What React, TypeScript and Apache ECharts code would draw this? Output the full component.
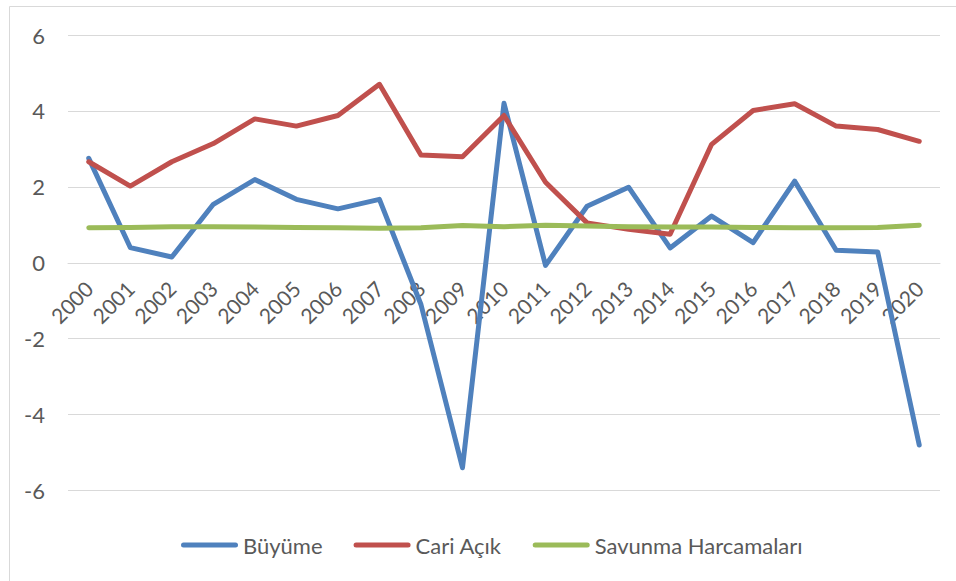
import React, { useEffect, useRef } from "react";
import * as echarts from "echarts";

const years = ["2000","2001","2002","2003","2004","2005","2006","2007","2008","2009","2010","2011","2012","2013","2014","2015","2016","2017","2018","2019","2020"];
const buyume = [2.75, 0.40, 0.15, 1.54, 2.19, 1.67, 1.42, 1.67, -1.1, -5.4, 4.2, -0.07, 1.49, 1.99, 0.39, 1.23, 0.53, 2.15, 0.33, 0.28, -4.8];
const cariAcik = [2.66, 2.02, 2.66, 3.14, 3.79, 3.6, 3.88, 4.7, 2.84, 2.79, 3.88, 2.12, 1.05, 0.88, 0.75, 3.12, 4.01, 4.19, 3.6, 3.51, 3.2];
const savunma = [0.92, 0.93, 0.95, 0.95, 0.94, 0.93, 0.92, 0.91, 0.92, 0.98, 0.95, 0.99, 0.97, 0.95, 0.94, 0.94, 0.93, 0.92, 0.92, 0.93, 0.99];
const seriesNames = ["Büyüme", "Cari Açık", "Savunma Harcamaları"];
const colors = ["#4F81BD", "#C0504D", "#9BBB59"];

const FONT = "Lato, 'Noto Sans', sans-serif";
const TXT = "#595959";

const GRID_TOP = 35;
const GRID_BOTTOM = 90.5;
const Y_MIN = -6;
const Y_MAX = 6;

export default function App() {
  const ref = useRef<HTMLDivElement>(null);
  useEffect(() => {
    if (!ref.current) return;
    const chart = echarts.init(ref.current, undefined, { renderer: "svg" });
    const plotH = 581 - GRID_TOP - GRID_BOTTOM;
    const zeroOffset = -plotH * (0 - Y_MIN) / (Y_MAX - Y_MIN);
    const pill = "path://M2.5,0 H54.5 A2.5,2.5 0 0 1 54.5,5 H2.5 A2.5,2.5 0 0 1 2.5,0 Z";
    const mk = (name: string, data: number[], color: string) => ({
      name,
      type: "line",
      data,
      symbol: "none",
      smooth: false,
      lineStyle: { color, width: 5, cap: "round", join: "round" },
      itemStyle: { color },
    });
    chart.setOption({
      animation: false,
      backgroundColor: "#ffffff",
      textStyle: { fontFamily: FONT },
      graphic: [
        {
          type: "rect",
          shape: { x: 9.5, y: 6.5, width: 1000, height: 1000 },
          style: { fill: "none", stroke: "#D9D9D9", lineWidth: 1 },
          silent: true,
        },
      ],
      grid: { left: 68, right: 16, top: GRID_TOP, bottom: GRID_BOTTOM, containLabel: false },
      legend: {
        left: 176,
        top: 529,
        itemWidth: 57,
        itemHeight: 5,
        itemGap: 31,
        icon: pill,
        textStyle: { color: TXT, fontSize: 22, fontFamily: FONT },
        data: seriesNames,
      },
      xAxis: {
        type: "category",
        data: years,
        boundaryGap: true,
        position: "bottom",
        offset: zeroOffset,
        axisLine: { show: true, onZero: false, lineStyle: { color: "#D9D9D9", width: 1 } },
        axisTick: { show: false },
        axisLabel: { rotate: 45, margin: 22, color: TXT, fontSize: 21, fontFamily: FONT, interval: 0 },
        splitLine: { show: false },
      },
      yAxis: {
        type: "value",
        min: Y_MIN,
        max: Y_MAX,
        interval: 2,
        axisLine: { show: false },
        axisTick: { show: false },
        axisLabel: { margin: 23, color: TXT, fontSize: 22, fontFamily: FONT },
        splitLine: { show: true, lineStyle: { color: "#D9D9D9", width: 1 } },
      },
      series: [
        mk(seriesNames[0], buyume, colors[0]),
        mk(seriesNames[1], cariAcik, colors[1]),
        mk(seriesNames[2], savunma, colors[2]),
      ],
    });
    return () => chart.dispose();
  }, []);
  return (
    <div
      ref={ref}
      style={{ position: "fixed", left: 0, top: 0, width: 956, height: 581, background: "#fff" }}
    />
  );
}
